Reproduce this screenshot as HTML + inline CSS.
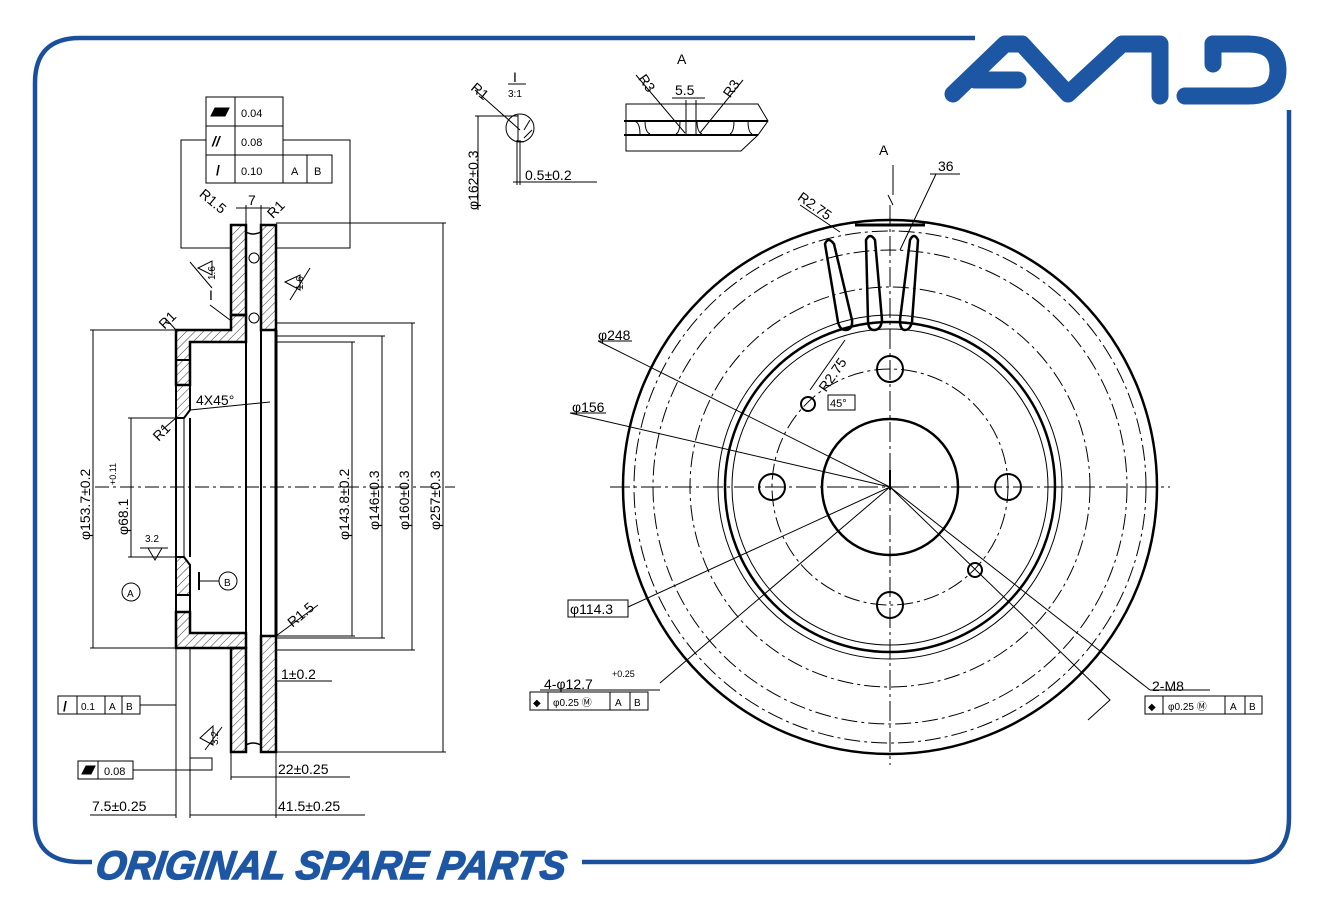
<!DOCTYPE html>
<html><head><meta charset="utf-8"><style>
html,body{margin:0;padding:0;background:#fff;}
svg{display:block;font-family:"Liberation Sans",sans-serif;}
</style></head><body>
<svg width="1321" height="900" viewBox="0 0 1321 900" xmlns="http://www.w3.org/2000/svg">
<defs>
<pattern id="h" width="6" height="6" patternUnits="userSpaceOnUse" patternTransform="rotate(45)">
<line x1="0" y1="0" x2="0" y2="6" stroke="#000" stroke-width="0.8"/></pattern>
</defs>
<rect width="1321" height="900" fill="#fff"/>
<!-- frame -->
<g fill="none" stroke="#1a4f9c" stroke-width="4.5">
<path d="M975 38 H80 Q35 38 35 83 V820 Q35 862 80 862 H92"/>
<path d="M582 862 H1245 Q1289 862 1289 818 V110"/>
</g>
<!-- AMD logo -->
<g fill="none" stroke="#1d56a3" stroke-width="17" stroke-linecap="round" stroke-linejoin="round">
<path d="M953 94 L1005 44 L1022 44 L1068 94 L1122 44 L1160 44 L1160 96"/>
<path d="M975 80 L1018 80"/>
<path d="M1185 96 L1248 96 Q1278 96 1278 70 Q1278 44 1248 44 L1213 44"/>
<path d="M1213 44 L1213 64"/>
</g>
<text x="100" y="879" font-size="40" font-weight="bold" font-style="italic" fill="#1d56a3" stroke="#1d56a3" stroke-width="1.5" textLength="470" lengthAdjust="spacingAndGlyphs" transform="skewX(-8) translate(118,0)">ORIGINAL SPARE PARTS</text>

<g stroke="#000" fill="none" stroke-width="1">
<!-- ===== left cross section ===== -->
<path d="M231 225 H246 V315 H231 Z" fill="url(#h)" stroke-width="2.5"/>
<path d="M261 225 H276 V330 H261 Z" fill="url(#h)" stroke-width="2.5"/>
<path d="M176 330 H231 V315 H246 V342 H190 V385 H176 Z" fill="url(#h)" stroke-width="2.5"/>
<path d="M176 385 H190 V410 L184 418 H176 Z" fill="url(#h)" stroke-width="2"/>
<path d="M176 557 H184 L190 565 V595 H176 Z" fill="url(#h)" stroke-width="2"/>
<path d="M176 612 H190 V633 H246 V648 H176 Z" fill="url(#h)" stroke-width="2.5"/>
<path d="M231 648 H246 V752 H231 Z" fill="url(#h)" stroke-width="2.5"/>
<path d="M261 636 H276 V752 H261 Z" fill="url(#h)" stroke-width="2.5"/>
<rect x="176" y="360" width="14" height="25" stroke-width="2"/>
<rect x="176" y="595" width="14" height="17" stroke-width="2"/>
<line x1="176" y1="418" x2="176" y2="557" stroke-width="2"/>
<line x1="184" y1="418" x2="184" y2="557"/>
<line x1="190" y1="418" x2="190" y2="557" stroke-width="2"/>
<line x1="246" y1="342" x2="246" y2="633" stroke-width="2"/>
<line x1="261" y1="330" x2="261" y2="636" stroke-width="2"/>
<line x1="276" y1="330" x2="276" y2="636" stroke-width="3"/>
<path d="M246 232 Q253 236 261 232 M246 745 Q253 741 261 745" stroke-width="1.5"/>
<circle cx="254" cy="258" r="5"/><circle cx="254" cy="318" r="5"/>
<line x1="95" y1="487" x2="455" y2="487" stroke-dasharray="14 4 3 4"/>
<line x1="90" y1="330" x2="176" y2="330"/><line x1="90" y1="648" x2="176" y2="648"/>
<line x1="93" y1="330" x2="93" y2="648"/>
<line x1="128" y1="418" x2="176" y2="418"/><line x1="128" y1="557" x2="176" y2="557"/>
<line x1="131" y1="418" x2="131" y2="557"/>
<line x1="276" y1="342" x2="355" y2="342"/><line x1="276" y1="636" x2="355" y2="636"/>
<line x1="352" y1="342" x2="352" y2="636"/>
<line x1="276" y1="336" x2="385" y2="336"/><line x1="276" y1="638" x2="385" y2="638"/>
<line x1="382" y1="336" x2="382" y2="638"/>
<line x1="276" y1="323" x2="415" y2="323"/><line x1="276" y1="650" x2="415" y2="650"/>
<line x1="412" y1="323" x2="412" y2="650"/>
<line x1="276" y1="223" x2="446" y2="223"/><line x1="276" y1="752" x2="446" y2="752"/>
<line x1="443" y1="223" x2="443" y2="752"/>
<rect x="206" y="97" width="77" height="86"/>
<line x1="206" y1="126" x2="283" y2="126"/><line x1="206" y1="155" x2="332" y2="155"/>
<line x1="235" y1="97" x2="235" y2="183"/>
<rect x="283" y="155" width="49" height="28"/><line x1="307" y1="155" x2="307" y2="183"/>
<path d="M206 140 H181 V248 H231 M283 140 H350 V248 H276"/>
<line x1="246" y1="205" x2="246" y2="225"/><line x1="261" y1="205" x2="261" y2="225"/>
<line x1="236" y1="208" x2="270" y2="208"/>
<path d="M211 116 L215 108 H229 L225 116 Z" fill="#000" stroke-width="1"/>
<line x1="176" y1="648" x2="176" y2="818"/><line x1="190" y1="648" x2="190" y2="818"/>
<line x1="231" y1="752" x2="231" y2="780"/><line x1="276" y1="752" x2="276" y2="818"/>
<line x1="231" y1="777" x2="350" y2="777"/>
<line x1="90" y1="815" x2="176" y2="815"/><line x1="190" y1="815" x2="365" y2="815"/>
<line x1="276" y1="681" x2="332" y2="681"/>
<rect x="58" y="696" width="82" height="18"/><line x1="77" y1="696" x2="77" y2="714"/><line x1="105" y1="696" x2="105" y2="714"/><line x1="122" y1="696" x2="122" y2="714"/>
<line x1="140" y1="705" x2="176" y2="705"/>
<rect x="78" y="761" width="55" height="18"/><line x1="98" y1="761" x2="98" y2="779"/>
<path d="M82 774 L86 766 H95 L91 774 Z" fill="#000"/>
<path d="M133 770 H212 V758 H190"/>
<path d="M200 738 L213 726 V745 Z M205 750 L222 727"/>
<path d="M198 268 L212 275 L212 261 Z M190 262 L212 288"/>
<path d="M285 282 L300 275 L300 290 Z M290 300 L310 268"/>
<path d="M148 548 L155 560 L162 548 Z M140 548 L168 548"/>
<path d="M190 410 L270 402"/>
<path d="M230 320 L210 305"/>
<circle cx="131" cy="592" r="9"/><circle cx="228" cy="581" r="9"/>
<line x1="199" y1="572" x2="199" y2="590" stroke-width="2"/><line x1="199" y1="581" x2="219" y2="581"/>
<line x1="276" y1="636" x2="318" y2="605"/>
<line x1="176" y1="330" x2="165" y2="318"/>
<line x1="176" y1="418" x2="162" y2="430"/>

<!-- detail views -->
<circle cx="520" cy="128" r="14"/>
<path d="M518 115 V141 L524 142 M475 90 L520 130 M524 130 L530 120 M524 138 L532 130"/>
<line x1="475" y1="116" x2="518" y2="116"/>
<line x1="478" y1="116" x2="478" y2="210"/>
<line x1="517" y1="140" x2="517" y2="185"/><line x1="520" y1="140" x2="520" y2="185"/>
<line x1="513" y1="182" x2="597" y2="182"/>
<line x1="508" y1="84" x2="526" y2="84"/>
<path d="M626 104 H758 L768 121 L758 135 L741 151 H626 V104 Z"/>
<line x1="624" y1="121" x2="768" y2="121" stroke-width="2"/>
<line x1="624" y1="135" x2="758" y2="135" stroke-width="2"/>
<path d="M634 121 Q640 122 640 134 M645 121 Q645 132 650 134 M680 121 Q680 132 676 134 M697 121 Q697 132 702 134 M734 121 Q734 132 730 134 M748 121 Q748 132 752 134"/>
<path d="M636 75 L685 133 M743 80 L700 133 M672 98 H705"/>
<line x1="686" y1="100" x2="686" y2="135"/><line x1="696" y1="100" x2="696" y2="135"/>

<!-- right disc view -->
<circle cx="890" cy="487" r="267" stroke-width="2.5"/>
<circle cx="890" cy="487" r="256" stroke-dasharray="16 4 3 4"/>
<circle cx="890" cy="487" r="237" stroke-dasharray="16 4 3 4"/>
<circle cx="890" cy="487" r="200" stroke-dasharray="16 4 3 4"/>
<circle cx="890" cy="487" r="172"/>
<circle cx="890" cy="487" r="165" stroke-width="2.5"/>
<circle cx="890" cy="487" r="158"/>
<circle cx="890" cy="487" r="118" stroke-dasharray="16 4 3 4"/>
<circle cx="890" cy="487" r="68" stroke-width="2.5"/>
<circle cx="890" cy="369" r="13" stroke-width="2"/>
<circle cx="1008" cy="487" r="13" stroke-width="2"/>
<circle cx="890" cy="605" r="13" stroke-width="2"/>
<circle cx="772" cy="487" r="13" stroke-width="2"/>
<circle cx="808" cy="404" r="7" stroke-width="2"/>
<circle cx="975" cy="570" r="7" stroke-width="2"/>
<line x1="610" y1="487" x2="1170" y2="487" stroke-dasharray="20 4 3 4"/>
<line x1="890" y1="205" x2="890" y2="765" stroke-dasharray="20 4 3 4"/>
<line x1="855" y1="225" x2="925" y2="225" stroke-width="3"/>
<g stroke-width="2.5">
<path d="M825 244 Q828 236 834 244 L852 320 Q853 330 845 330 Q840 330 838 322 Z"/>
<path d="M866 240 Q870 232 875 240 L882 320 Q881 330 874 330 Q868 330 868 320 Z"/>
<path d="M910 240 Q914 232 918 240 L912 322 Q910 330 905 330 Q900 330 900 320 Z"/>
</g>
<line x1="893" y1="165" x2="893" y2="195"/><line x1="893" y1="205" x2="888" y2="195"/>
<path d="M930 174 H960 M936 174 L900 250"/>
<path d="M800 205 L840 232"/>
<path d="M810 390 L845 340"/>
<path d="M828 395 H855 V410 H828 Z"/>
<path d="M890 487 L598 341 M890 487 L570 413 M890 487 L628 607 M890 487 L660 683 M890 487 L1150 690 M890 487 L1100 690"/>
<path d="M598 341 H632 M570 413 H606 M568 600 H628 V617 H568 Z"/>
<path d="M1150 690 H1210 M1088 720 L1110 700 L1095 685"/>
<rect x="530" y="692" width="118" height="18"/>
<line x1="548" y1="692" x2="548" y2="710"/><line x1="610" y1="692" x2="610" y2="710"/><line x1="630" y1="692" x2="630" y2="710"/>
<rect x="1145" y="696" width="117" height="18"/>
<line x1="1163" y1="696" x2="1163" y2="714"/><line x1="1225" y1="696" x2="1225" y2="714"/><line x1="1245" y1="696" x2="1245" y2="714"/>
<path d="M540 690 H660"/>
<line x1="890" y1="470" x2="890" y2="490" stroke-width="2"/>
</g>

<g font-size="14" fill="#000">
<text x="241" y="117" font-size="11">0.04</text>
<text x="241" y="146" font-size="11">0.08</text>
<text x="241" y="175" font-size="11">0.10</text>
<text x="291" y="175" font-size="11">A</text><text x="314" y="175" font-size="11">B</text>
<text x="212" y="146" font-weight="bold" font-style="italic">//</text>
<text x="216" y="175" font-weight="bold">/</text>
<text x="248" y="205">7</text>
<text x="195" y="205" transform="rotate(40 210 205)">R1.5</text>
<text x="270" y="212" transform="rotate(-45 280 212)">R1</text>
<text x="196" y="405">4X45°</text>
<text x="286" y="620" transform="rotate(-40 300 615)">R1.5</text>
<text x="281" y="679">1±0.2</text>
<text x="278" y="774">22±0.25</text>
<text x="278" y="811">41.5±0.25</text>
<text x="92" y="811">7.5±0.25</text>
<text x="81" y="710" font-size="10">0.1</text><text x="109" y="710" font-size="10">A</text><text x="126" y="710" font-size="10">B</text>
<text x="63" y="711" font-weight="bold">/</text>
<text x="104" y="775" font-size="11">0.08</text>
<text x="127" y="597" font-size="10">A</text><text x="224" y="586" font-size="10">B</text>
<text x="145" y="542" font-size="10">3.2</text>
<text x="0" y="0" transform="translate(90 540) rotate(-90)">φ153.7±0.2</text>
<text x="0" y="0" transform="translate(128 535) rotate(-90)">φ68.1</text>
<text x="0" y="0" font-size="9" transform="translate(116 485) rotate(-90)">+0.11</text>
<text x="0" y="0" transform="translate(349 540) rotate(-90)">φ143.8±0.2</text>
<text x="0" y="0" transform="translate(379 530) rotate(-90)">φ146±0.3</text>
<text x="0" y="0" transform="translate(409 530) rotate(-90)">φ160±0.3</text>
<text x="0" y="0" transform="translate(440 530) rotate(-90)">φ257±0.3</text>
<text x="0" y="0" font-size="10" transform="translate(215 280) rotate(-90)">1.6</text>
<text x="0" y="0" font-size="10" transform="translate(303 290) rotate(-90)">1.6</text>
<text x="0" y="0" font-size="10" transform="translate(218 745) rotate(-90)">3.2</text>
<text x="160" y="325" transform="rotate(-45 168 322)">R1</text>
<text x="152" y="438" transform="rotate(-45 160 432)">R1</text>
<text x="209" y="300">I</text>
<text x="513" y="82">I</text><text x="508" y="97" font-size="10">3:1</text>
<text x="470" y="95" transform="rotate(40 478 92)">R1</text>
<text x="0" y="0" transform="translate(478 210) rotate(-90)">φ162±0.3</text>
<text x="525" y="180">0.5±0.2</text>
<text x="677" y="64">A</text>
<text x="675" y="95">5.5</text>
<text x="638" y="86" transform="rotate(55 645 82)">R3</text>
<text x="723" y="95" transform="rotate(-55 730 90)">R3</text>
<text x="879" y="155">A</text>
<text x="938" y="171">36</text>
<text x="795" y="205" transform="rotate(35 805 205)">R2.75</text>
<text x="815" y="388" transform="rotate(-55 825 380)">R2.75</text>
<text x="830" y="407" font-size="11">45°</text>
<text x="598" y="340">φ248</text>
<text x="572" y="412">φ156</text>
<text x="570" y="614">φ114.3</text>
<text x="544" y="689">4-φ12.7</text>
<text x="612" y="677" font-size="9">+0.25</text>
<text x="533" y="706" font-size="10">◆</text><text x="553" y="706" font-size="10">φ0.25 Ⓜ</text>
<text x="615" y="706" font-size="10">A</text><text x="634" y="706" font-size="10">B</text>
<text x="1152" y="691">2-M8</text>
<text x="1148" y="710" font-size="10">◆</text><text x="1168" y="710" font-size="10">φ0.25 Ⓜ</text>
<text x="1230" y="710" font-size="10">A</text><text x="1249" y="710" font-size="10">B</text>
</g>
</svg>
</body></html>
